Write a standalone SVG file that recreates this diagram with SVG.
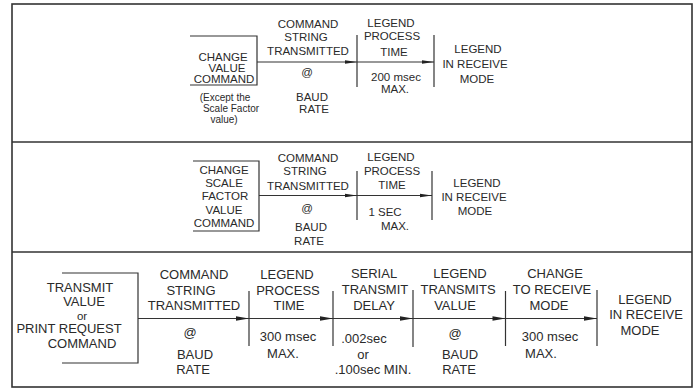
<svg xmlns="http://www.w3.org/2000/svg" width="696" height="388" viewBox="0 0 696 388">
<style>
text{font-family:"Liberation Sans",Arial,sans-serif;fill:#2a2a2a;text-anchor:middle}
.s{font-size:11.5px}
.m{font-size:10px}
.l{font-size:13px}
.o{font-size:11.5px}
.frame{fill:none;stroke:#333;stroke-width:1.6}
.ln{fill:none;stroke:#333;stroke-width:1.2}
.ah{fill:#222}
</style>
<rect width="696" height="388" fill="#fff"/>
<g id="frame">
<rect class="frame" x="12" y="4" width="680" height="383"/>
<line class="frame" x1="12" y1="142" x2="692" y2="142"/>
<line class="frame" x1="12" y1="252" x2="692" y2="252"/>
</g>

<!-- Panel 1 -->
<g id="p1-box">
<path class="ln" d="M190,36 H257 V85 H190"/>
<text class="s" x="223" y="61">CHANGE</text>
<text class="s" x="227" y="72">VALUE</text>
<text class="s" x="224" y="83">COMMAND</text>
<text class="m" x="225" y="101">(Except the</text>
<text class="m" x="231" y="111.5">Scale Factor</text>
<text class="m" x="224" y="122.5">value)</text>
</g>
<g id="p1-cmd">
<text class="s" x="308" y="27.5">COMMAND</text>
<text class="s" x="306" y="40.5">STRING</text>
<text class="s" x="308" y="54.5">TRANSMITTED</text>
<text class="s" x="307" y="76">@</text>
<text class="s" x="312" y="101">BAUD</text>
<text class="s" x="314" y="113">RATE</text>
</g>
<g id="p1-proc">
<text class="s" x="391" y="27">LEGEND</text>
<text class="s" x="392" y="39.5">PROCESS</text>
<text class="s" x="394" y="55.5">TIME</text>
<text class="s" x="396" y="81">200 msec</text>
<text class="s" x="395" y="93">MAX.</text>
</g>
<g id="p1-recv">
<text class="s" x="478" y="53">LEGEND</text>
<text class="s" x="475" y="68">IN RECEIVE</text>
<text class="s" x="477" y="83">MODE</text>
</g>

<!-- Panel 2 -->
<g id="p2-box">
<path class="ln" d="M193,161 H259 V231 H193"/>
<text class="s" x="224" y="174">CHANGE</text>
<text class="s" x="224" y="186.5">SCALE</text>
<text class="s" x="225" y="200">FACTOR</text>
<text class="s" x="224" y="213.5">VALUE</text>
<text class="s" x="224" y="227">COMMAND</text>
</g>
<g id="p2-cmd">
<text class="s" x="308" y="161.5">COMMAND</text>
<text class="s" x="305" y="175">STRING</text>
<text class="s" x="308" y="190">TRANSMITTED</text>
<text class="s" x="307" y="212">@</text>
<text class="s" x="311" y="231">BAUD</text>
<text class="s" x="309" y="244.5">RATE</text>
</g>
<g id="p2-proc">
<text class="s" x="391" y="161">LEGEND</text>
<text class="s" x="392" y="174.5">PROCESS</text>
<text class="s" x="392" y="188.5">TIME</text>
<text class="s" x="385" y="216">1 SEC</text>
<text class="s" x="395" y="230">MAX.</text>
</g>
<g id="p2-recv">
<text class="s" x="477" y="187">LEGEND</text>
<text class="s" x="474" y="200.5">IN RECEIVE</text>
<text class="s" x="475" y="214.5">MODE</text>
</g>

<!-- Panel 3 -->
<g id="p3-box">
<path class="ln" d="M62,273 H138 V363 H62"/>
<text class="l" x="80" y="292">TRANSMIT</text>
<text class="l" x="84" y="306">VALUE</text>
<text class="o" x="82" y="319.5">or</text>
<text class="l" x="69" y="332.5">PRINT REQUEST</text>
<text class="l" x="82" y="347.5">COMMAND</text>
</g>
<g id="p3-cmd">
<text class="l" x="194" y="279">COMMAND</text>
<text class="l" x="191" y="294.5">STRING</text>
<text class="l" x="194" y="309.5">TRANSMITTED</text>
<text class="l" x="190" y="336.5">@</text>
<text class="l" x="195" y="358.5">BAUD</text>
<text class="l" x="193" y="373.5">RATE</text>
</g>
<g id="p3-proc">
<text class="l" x="287" y="279">LEGEND</text>
<text class="l" x="288" y="294.5">PROCESS</text>
<text class="l" x="289" y="309.5">TIME</text>
<text class="l" x="288" y="341">300 msec</text>
<text class="l" x="283" y="357.5">MAX.</text>
</g>
<g id="p3-delay">
<text class="l" x="374" y="278">SERIAL</text>
<text class="l" x="375" y="293.7">TRANSMIT</text>
<text class="l" x="374" y="309.7">DELAY</text>
<text class="l" x="364" y="342.5">.002sec</text>
<text class="l" x="363" y="358.5">or</text>
<text class="l" x="373" y="374">.100sec  MIN.</text>
</g>
<g id="p3-xmit">
<text class="l" x="460" y="278">LEGEND</text>
<text class="l" x="458" y="293.7">TRANSMITS</text>
<text class="l" x="455" y="309.7">VALUE</text>
<text class="l" x="455" y="338">@</text>
<text class="l" x="460" y="359">BAUD</text>
<text class="l" x="459" y="374">RATE</text>
</g>
<g id="p3-change">
<text class="l" x="555" y="278">CHANGE</text>
<text class="l" x="552" y="294.4">TO RECEIVE</text>
<text class="l" x="549" y="309.7">MODE</text>
<text class="l" x="550" y="341.4">300 msec</text>
<text class="l" x="541" y="358">MAX.</text>
</g>
<g id="p3-recv">
<text class="l" x="645" y="303.5">LEGEND</text>
<text class="l" x="646" y="319.4">IN RECEIVE</text>
<text class="l" x="640" y="335">MODE</text>
</g>

<g id="connectors">
<!-- panel 1 -->
<line class="ln" x1="257" y1="62" x2="434" y2="62"/>
<line class="ln" x1="357" y1="35" x2="357" y2="87"/>
<line class="ln" x1="434" y1="35" x2="434" y2="87"/>
<polygon class="ah" points="345,60.2 357,62 345,63.8"/>
<polygon class="ah" points="422,60.2 434,62 422,63.8"/>
<!-- panel 2 -->
<line class="ln" x1="259" y1="195.5" x2="432" y2="195.5"/>
<line class="ln" x1="357" y1="171" x2="357" y2="220"/>
<line class="ln" x1="432" y1="171" x2="432" y2="220"/>
<polygon class="ah" points="345,193.7 357,195.5 345,197.3"/>
<polygon class="ah" points="420,193.7 432,195.5 420,197.3"/>
<!-- panel 3 -->
<line class="ln" x1="138" y1="318.5" x2="597" y2="318.5"/>
<line class="ln" x1="249" y1="291" x2="249" y2="346"/>
<line class="ln" x1="333" y1="291" x2="333" y2="346"/>
<line class="ln" x1="413" y1="290" x2="413" y2="347"/>
<line class="ln" x1="505.5" y1="291" x2="505.5" y2="346"/>
<line class="ln" x1="597" y1="290" x2="597" y2="346"/>
<polygon class="ah" points="236,316.2 249,318.5 236,320.8"/>
<polygon class="ah" points="320,316.2 333,318.5 320,320.8"/>
<polygon class="ah" points="400,316.2 413,318.5 400,320.8"/>
<polygon class="ah" points="492.5,316.2 505.5,318.5 492.5,320.8"/>
<polygon class="ah" points="584,316.2 597,318.5 584,320.8"/>
</g>
</svg>
